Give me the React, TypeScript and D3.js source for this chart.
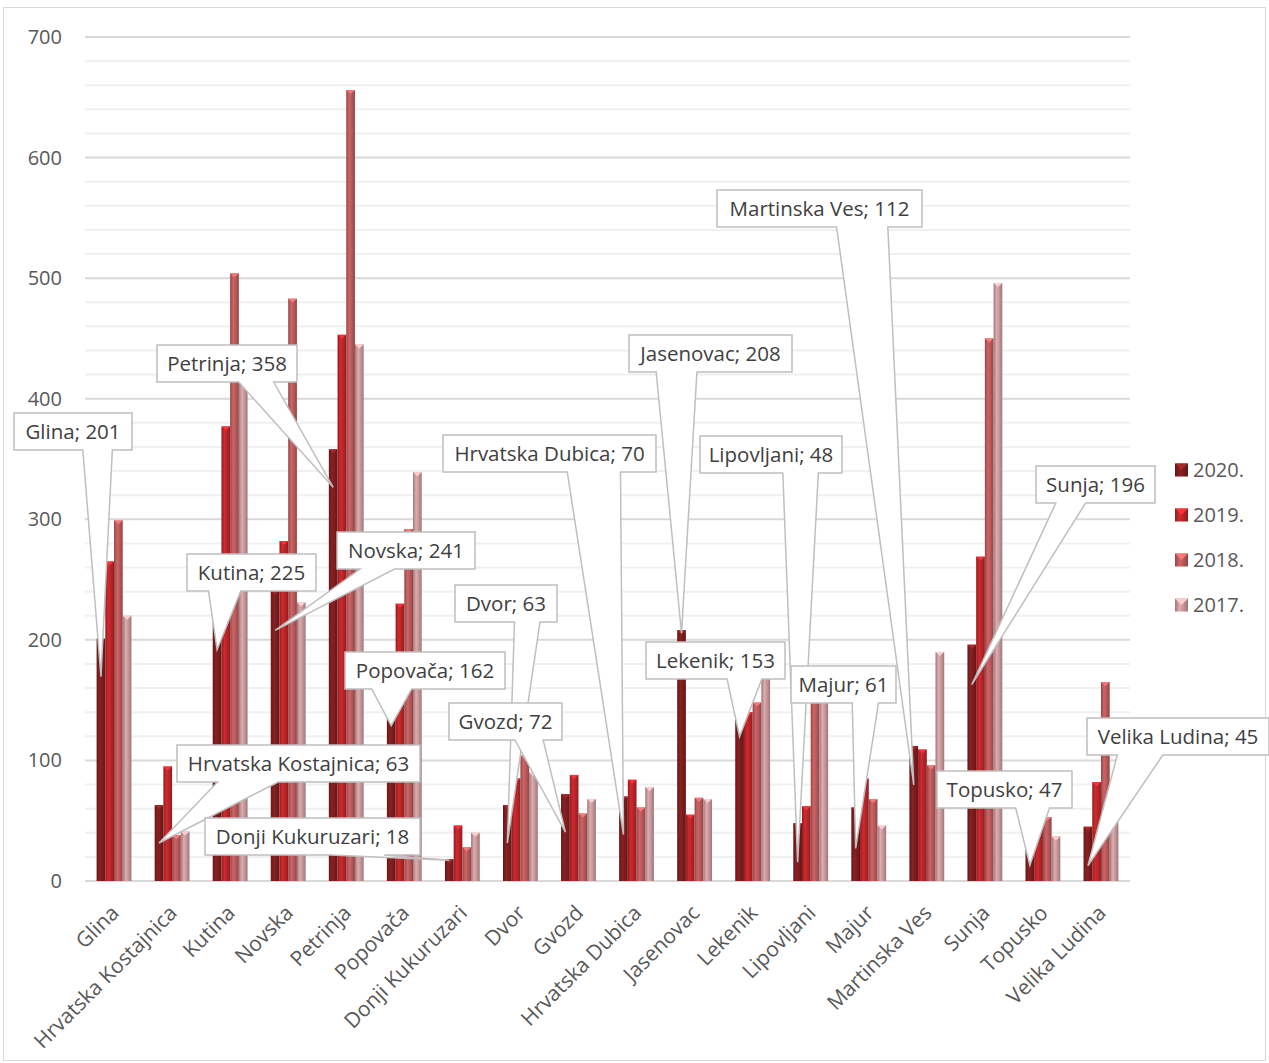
import React, { useEffect, useRef } from "react";
import * as d3 from "d3";

const categories = [
  "Glina", "Hrvatska Kostajnica", "Kutina", "Novska", "Petrinja", "Popovača",
  "Donji Kukuruzari", "Dvor", "Gvozd", "Hrvatska Dubica", "Jasenovac", "Lekenik",
  "Lipovljani", "Majur", "Martinska Ves", "Sunja", "Topusko", "Velika Ludina",
];
const seriesNames = ["2020.", "2019.", "2018.", "2017."];
const values2020 = [201, 63, 225, 241, 358, 162, 18, 63, 72, 70, 208, 153, 48, 61, 112, 196, 47, 45];
const values2019 = [265, 95, 377, 282, 453, 230, 46, 85, 88, 84, 55, 140, 62, 85, 109, 269, 48, 82];
const values2018 = [299, 38, 504, 483, 656, 292, 28, 104, 56, 61, 69, 148, 158, 68, 96, 450, 53, 165];
const values2017 = [220, 41, 425, 231, 445, 339, 40, 90, 68, 78, 68, 175, 155, 46, 190, 496, 37, 50];
const yTicks = [0, 100, 200, 300, 400, 500, 600, 700];

const seriesColors = ["#7e1d1e", "#bc2529", "#bb5a5b", "#c99a9c"];

// callout boxes placed by hand in the original: [left, top, width]
const calloutBoxes = [
  [14, 413, 118], [177, 745, 243], [187, 554, 129], [337, 532, 138], [157, 345, 140],
  [345, 652, 160], [205, 818, 215], [455, 585, 102], [449, 703, 113], [443, 435, 213],
  [629, 335, 163], [646, 642, 139], [700, 436, 142], [791, 666, 105], [717, 190, 205],
  [1036, 466, 119], [937, 771, 135], [1087, 718, 182],
];
// pointer end below the top of the 2020 bar (px)
const calloutDrop = [38, 38, 40, 40, 38, 40, 1, 38, 38, 38, 3, 40, 39, 41, 39, 40, 41, 39];

const W = 1269;
const H = 1063;

function calloutPath(l: number, t: number, w: number, h: number, px: number, py: number) {
  const r = l + w, b = t + h;
  const dx = px - (l + w / 2);
  const dy = py - (t + h / 2);
  const dq = (dx * h) / w;
  if (Math.abs(dy) - Math.abs(dq) > 0) {
    const x1 = l + (w * (dx > 0 ? 7 : 2)) / 12;
    const x2 = l + (w * (dx > 0 ? 10 : 5)) / 12;
    if (dy > 0) return `M${l},${t}H${r}V${b}H${x2}L${px},${py}L${x1},${b}H${l}Z`;
    return `M${l},${t}H${x1}L${px},${py}L${x2},${t}H${r}V${b}H${l}Z`;
  }
  const y1 = t + (h * (dy > 0 ? 7 : 2)) / 12;
  const y2 = t + (h * (dy > 0 ? 10 : 5)) / 12;
  if (dx > 0) return `M${l},${t}H${r}V${y1}L${px},${py}L${r},${y2}V${b}H${l}Z`;
  return `M${l},${t}H${r}V${b}H${l}V${y2}L${px},${py}L${l},${y1}Z`;
}

export default function App() {
  const svgRef = useRef<SVGSVGElement>(null);

  useEffect(() => {
    document.body.style.margin = "0";
    const svg = d3.select(svgRef.current);
    svg.selectAll("*").remove();

    const seriesValues = [values2020, values2019, values2018, values2017];
    const rows = categories.map((c, i) => ({ name: c, vals: seriesValues.map((s) => s[i]) }));

    const x = d3.scaleBand().domain(categories).range([85, 1130]);
    const groupW = x.bandwidth() * 0.6;
    const xs = d3.scaleBand().domain(seriesNames).range([0, groupW]);
    const y = d3.scaleLinear().domain([0, 700]).range([881, 37]);
    const bw = xs.bandwidth();

    // gradients
    const defs = svg.append("defs");
    seriesColors.forEach((c, i) => {
      const base = d3.color(c)!;
      const g = defs.append("linearGradient").attr("id", `g${i}`).attr("x1", 0).attr("x2", 1).attr("y1", 0).attr("y2", 0);
      g.append("stop").attr("offset", 0).attr("stop-color", base.darker(0.7).formatHex());
      g.append("stop").attr("offset", 0.35).attr("stop-color", base.brighter(0.3).formatHex());
      g.append("stop").attr("offset", 0.6).attr("stop-color", base.formatHex());
      g.append("stop").attr("offset", 1).attr("stop-color", base.darker(0.7).formatHex());
    });

    svg.append("rect").attr("x", 3.5).attr("y", 7.5).attr("width", W - 7).attr("height", H - 10)
      .attr("fill", "#fff").attr("stroke", "#d9d9d9");

    // gridlines
    const minor = d3.range(0, 701, 20).filter((v) => v % 100 !== 0);
    svg.append("g").selectAll("line").data(minor).join("line")
      .attr("x1", 85).attr("x2", 1130).attr("y1", (d) => y(d)).attr("y2", (d) => y(d))
      .attr("stroke", "#f0f0f0").attr("stroke-width", 2);
    svg.append("g").selectAll("line").data(yTicks).join("line")
      .attr("x1", 85).attr("x2", 1130).attr("y1", (d) => y(d)).attr("y2", (d) => y(d))
      .attr("stroke", "#d9d9d9").attr("stroke-width", 2);

    svg.append("g").selectAll("text").data(yTicks).join("text")
      .attr("x", 62).attr("y", (d) => y(d)).attr("dy", "0.35em")
      .attr("text-anchor", "end").attr("fill", "#595959")
      .style("font", "20px 'Open Sans'").text((d) => d);

    // bars
    const groups = svg.append("g").selectAll("g").data(rows).join("g")
      .attr("transform", (d) => `translate(${x(d.name)! + (x.bandwidth() - groupW) / 2},0)`);
    const bars = groups.selectAll("g").data((d) => d.vals.map((v, k) => ({ v, k }))).join("g");
    bars.append("rect")
      .attr("x", (d) => xs(seriesNames[d.k])!).attr("width", bw)
      .attr("y", (d) => y(d.v)).attr("height", (d) => y(0) - y(d.v))
      .attr("fill", (d) => `url(#g${d.k})`);
    bars.append("path")
      .attr("d", (d) => {
        const x0 = xs(seriesNames[d.k])!;
        const t = y(d.v);
        return `M${x0},${t}H${x0 + bw}L${x0 + bw / 2},${t + 4}Z`;
      })
      .attr("fill", (d) => d3.color(seriesColors[d.k])!.brighter(0.8).formatHex());

    // category labels
    svg.append("g").selectAll("text").data(categories).join("text")
      .attr("transform", (d) => `translate(${x(d)! + x.bandwidth() / 2 + 1},${909}) rotate(-45)`)
      .attr("text-anchor", "end").attr("dy", "0.35em").attr("fill", "#595959")
      .style("font", "21px 'Open Sans'").text((d) => d);

    // callouts for 2020
    const cg = svg.append("g");
    rows.forEach((r, i) => {
      const [l, t, w] = calloutBoxes[i];
      const h = 37;
      const px = x(r.name)! + (x.bandwidth() - groupW) / 2 + xs(seriesNames[0])! + bw / 2;
      const py = y(r.vals[0]) + calloutDrop[i];
      cg.append("path").attr("d", calloutPath(l, t, w, h, px, py))
        .attr("fill", "#fff").attr("stroke", "#bfbfbf").attr("stroke-width", 1.5);
      cg.append("text").attr("x", l + w / 2).attr("y", t + h / 2).attr("dy", "0.35em")
        .attr("text-anchor", "middle").attr("fill", "#404040")
        .style("font", "20.5px 'Open Sans'").text(`${r.name}; ${r.vals[0]}`);
    });

    // legend
    const lg = svg.append("g").selectAll("g").data(seriesNames).join("g")
      .attr("transform", (d, i) => `translate(1175,${470 + i * 45})`);
    lg.append("rect").attr("x", 0).attr("y", -6.5).attr("width", 13).attr("height", 13)
      .attr("fill", (d, i) => `url(#g${i})`);
    lg.append("path").attr("d", "M0,-6.5H13L6.5,0Z")
      .attr("fill", (d, i) => d3.color(seriesColors[i])!.brighter(0.8).formatHex());
    lg.append("text").attr("x", 18).attr("dy", "0.35em").attr("fill", "#595959")
      .style("font", "20px 'Open Sans'").text((d) => d);
  }, []);

  return <svg ref={svgRef} width={W} height={H} style={{ display: "block" }} />;
}
